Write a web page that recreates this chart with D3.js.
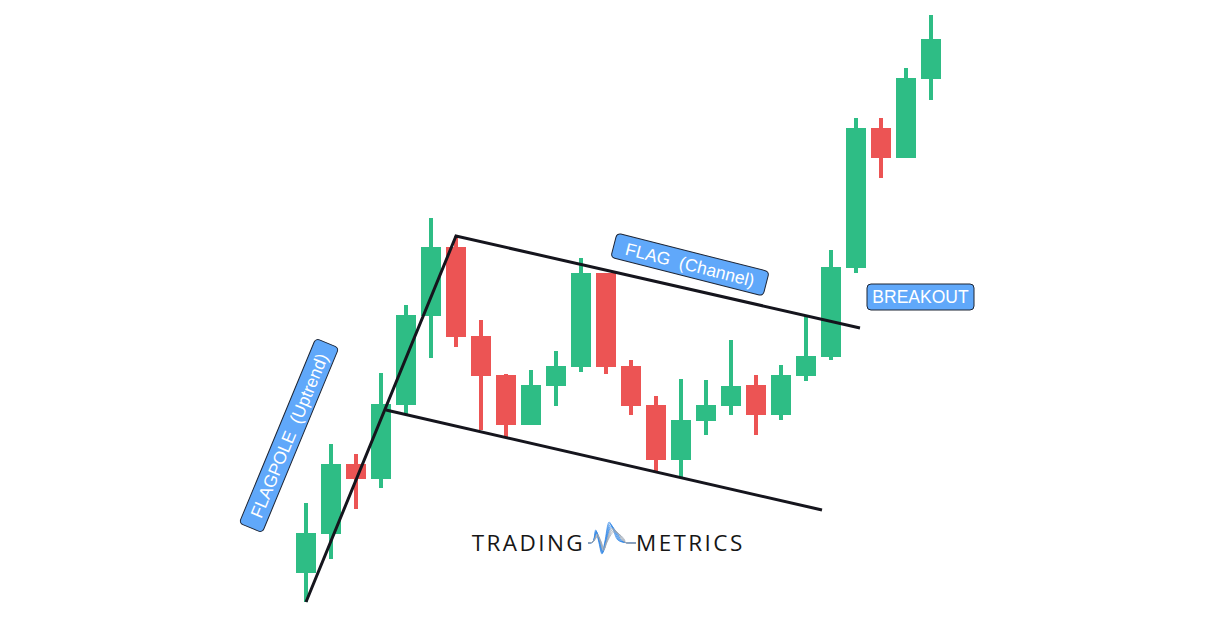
<!DOCTYPE html>
<html>
<head>
<meta charset="utf-8">
<script src="https://cdn.jsdelivr.net/npm/d3@7"></script>
<style>
  html, body { margin: 0; padding: 0; background: #ffffff; }
  svg { display: block; }
</style>
</head>
<body>
<svg id="chart" width="1217" height="619"></svg>
<script>
// ---- data ----
const categories = d3.range(1, 27);
const opens  = [47, 86, 156, 141, 215, 304, 373, 284, 245, 195, 234, 253, 347, 254, 215, 160, 199, 214, 235, 205, 244, 263, 352, 492, 462, 541];
const closes = [87, 156, 141, 216, 305, 373, 283, 244, 195, 235, 254, 347, 253, 214, 160, 200, 215, 234, 205, 245, 264, 353, 492, 462, 542, 581];
const highs  = [117, 176, 166, 247, 315, 402, 384, 300, 246, 250, 269, 362, 347, 260, 224, 241, 240, 280, 245, 255, 304, 370, 502, 502, 552, 605];
const lows   = [18, 61, 111, 132, 206, 262, 273, 190, 182, 195, 214, 248, 246, 205, 149, 142, 185, 205, 185, 200, 239, 260, 347, 442, 462, 520];

// trend lines, in (candle index, price)
const flagpoleLine = [[0, 18], [6, 384]];
const upperFlagLine = [[6, 384], [22.16, 292]];
const lowerFlagLine = [[3.2, 210], [20.64, 110]];

const labels = ["FLAGPOLE\u00a0\u00a0(Uptrend)", "FLAG\u00a0\u00a0(Channel)", "BREAKOUT"];
const logoWords = ["TRADING", "METRICS"];

// ---- scales ----
const svg = d3.select("#chart");
const x = d3.scaleLinear().domain([0, 25]).range([306, 931]);
const y = d3.scaleLinear().domain([0, 620]).range([620, 0]);
const bodyW = 20, wickW = 4;
const GREEN = "#2ebd85", RED = "#ec5454";

const candles = categories.map((c, i) => ({
  c, o: opens[i], cl: closes[i], h: highs[i], l: lows[i]
}));

const g = svg.append("g");
const cg = g.selectAll("g.candle").data(candles).join("g").attr("class", "candle")
  .attr("fill", d => d.cl >= d.o ? GREEN : RED);
cg.append("rect")
  .attr("x", (d, i) => x(i) - wickW / 2)
  .attr("width", wickW)
  .attr("y", d => y(d.h))
  .attr("height", d => y(d.l) - y(d.h));
cg.append("rect")
  .attr("x", (d, i) => x(i) - bodyW / 2)
  .attr("width", bodyW)
  .attr("y", d => y(Math.max(d.o, d.cl)))
  .attr("height", d => Math.max(1, Math.abs(y(d.o) - y(d.cl))));

// ---- trend lines ----
const line = d3.line().x(d => x(d[0])).y(d => y(d[1]));
g.append("path")
  .attr("d", line([flagpoleLine[0], flagpoleLine[1], upperFlagLine[1]]))
  .attr("fill", "none").attr("stroke", "#15151d").attr("stroke-width", 3)
  .attr("stroke-linejoin", "miter");
g.append("path")
  .attr("d", line(lowerFlagLine))
  .attr("fill", "none").attr("stroke", "#15151d").attr("stroke-width", 3);

// ---- labels ----
function label(text, cx, cy, w, h, angle, fs) {
  const lg = svg.append("g").attr("transform", `translate(${cx},${cy}) rotate(${angle})`);
  lg.append("rect").attr("x", -w / 2).attr("y", -h / 2).attr("width", w).attr("height", h)
    .attr("rx", 4).attr("fill", "#60a8fa").attr("stroke", "#1d2433").attr("stroke-width", 1);
  lg.append("text").text(text).attr("text-anchor", "middle").attr("dy", "0.36em")
    .attr("fill", "#ffffff").attr("font-family", "Liberation Sans, Arial, sans-serif")
    .attr("font-size", fs);
}
label(labels[0], 289, 435.5, 200, 25, -67.5, 17.5);
label(labels[1], 690, 264.5, 157, 25, 14.2, 17.5);
label(labels[2], 920.5, 297, 107, 26, 0, 17.5);

// ---- logo ----
const logo = svg.append("g");
logo.append("text").text(logoWords[0]).attr("x", 585).attr("y", 551).attr("text-anchor", "end")
  .attr("font-family", "Open Sans, sans-serif").attr("font-size", 22.5).attr("letter-spacing", 2.4)
  .attr("fill", "#161616");
logo.append("text").text(logoWords[1]).attr("x", 636).attr("y", 551)
  .attr("font-family", "Open Sans, sans-serif").attr("font-size", 22.5).attr("letter-spacing", 2.4)
  .attr("fill", "#161616");
// wave icon
const waveX = d3.scaleLinear().domain([0, 1]).range([588, 636]);
const wave = d3.line().curve(d3.curveCatmullRom).x(d => waveX(d[0])).y(d => d[1]);
for (let k = 0; k < 9; k++) {
  const s = 1 - k * 0.06;
  const dx = k * 0.006;
  const pts = [[0, 543], [0.1, 542], [0.16 + dx, 543 - 13 * s], [0.22 + dx, 541], [0.29 + dx, 543 + 11 * s],
               [0.35 + dx, 542], [0.44 + dx * 2, 543 - 21 * s], [0.52 + dx * 3, 541 - 12 * s], [0.62 + dx * 3, 540], [0.78, 542.5], [1, 543]];
  logo.append("path").attr("d", wave(pts)).attr("fill", "none")
    .attr("stroke", k < 5 ? "#2f86e6" : "#9aa6b4").attr("stroke-width", 0.8).attr("opacity", 0.9);
}
</script>
</body>
</html>
